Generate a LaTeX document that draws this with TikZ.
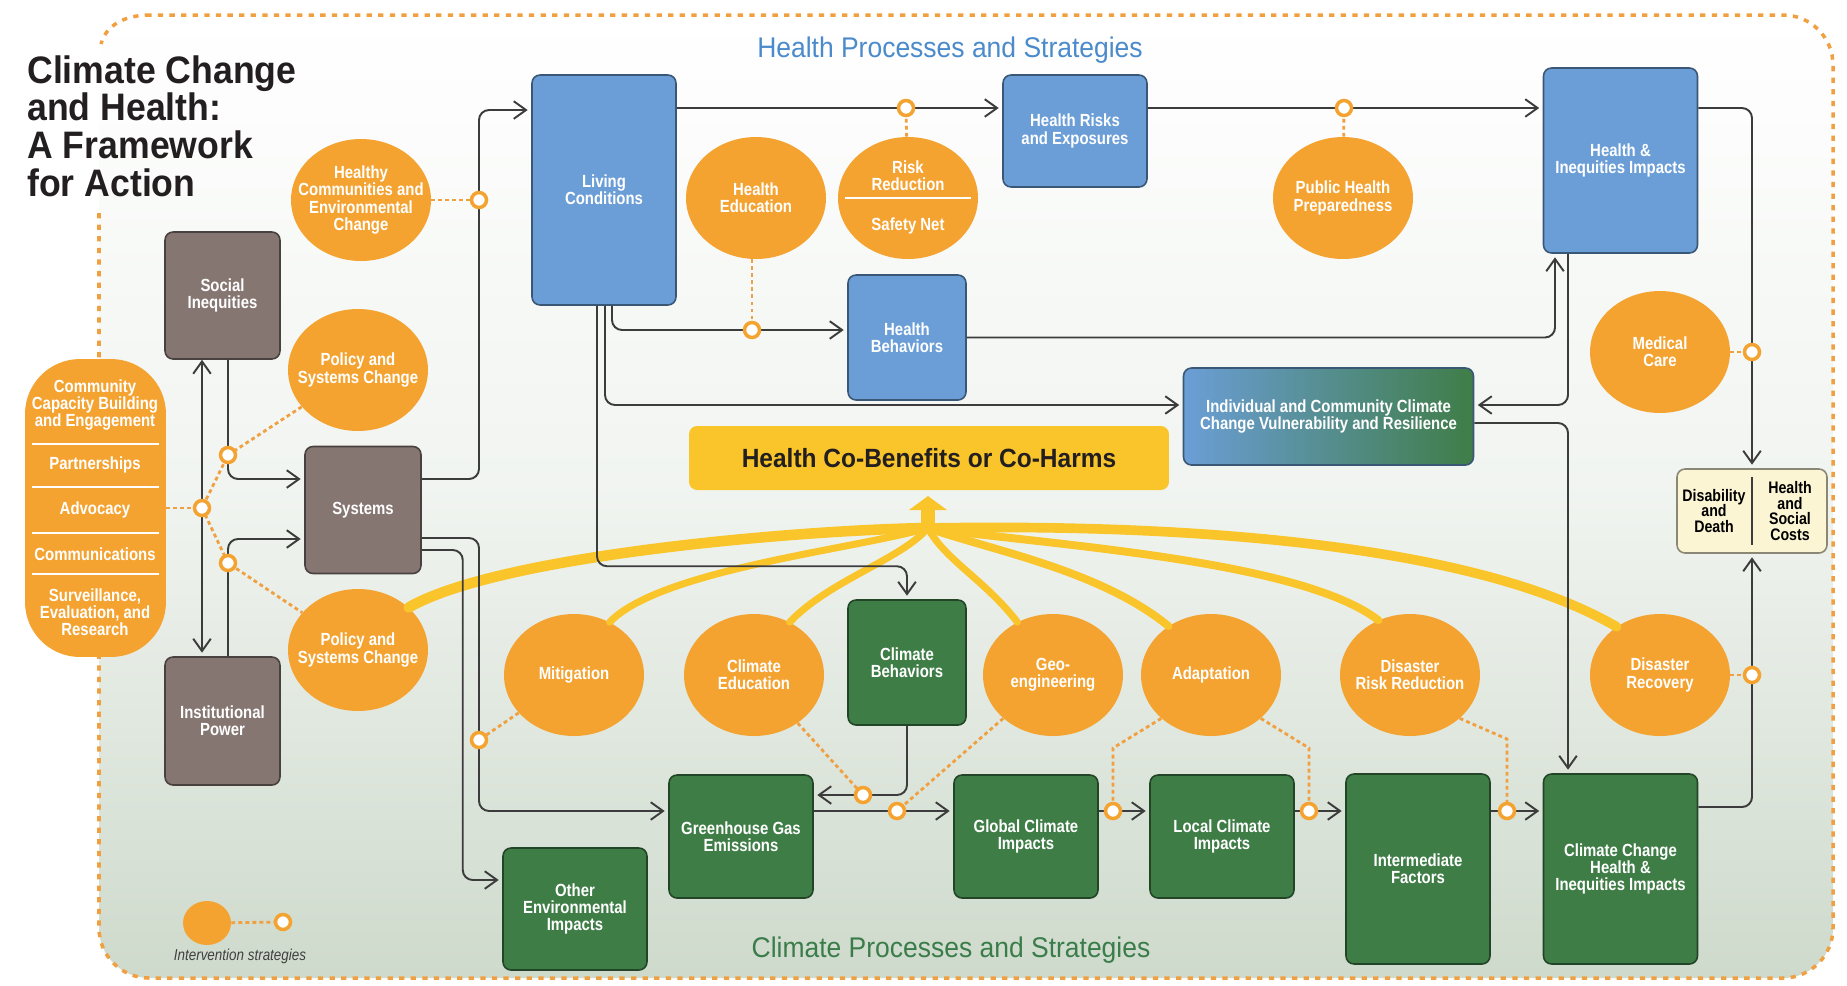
\documentclass[tikz,border=0pt]{standalone}
\usepackage{fontspec}
\setmainfont{Liberation Sans}[FakeStretch=0.85]
\newfontfamily\headingfont{Liberation Sans}[FakeStretch=0.93]
\usetikzlibrary{shapes.geometric,arrows.meta}

\definecolor{orng}{HTML}{F4A331}
\definecolor{dotorng}{HTML}{F0A040}
\definecolor{hblue}{HTML}{6B9ED6}
\definecolor{cgreen}{HTML}{3F7D47}
\definecolor{sgray}{HTML}{857672}
\definecolor{cbyellow}{HTML}{F9C52B}
\definecolor{cream}{HTML}{FBF5D3}
\definecolor{linegray}{HTML}{3C3C3C}
\definecolor{headblue}{HTML}{4B8BCB}
\definecolor{headgreen}{HTML}{3B7D4A}
\definecolor{bggreen}{HTML}{CEDACC}
\definecolor{titlecol}{HTML}{231F20}

\newcommand\boxfont{\bfseries\fontsize{10}{9.8}\selectfont}
\newcommand\costfont{\bfseries\fontsize{9.5}{9}\selectfont}

\begin{document}
\begin{tikzpicture}[x=0.02cm,y=-0.02cm,
	box/.style={rectangle,rounded corners=0.16cm,draw=#1!55!black,line width=0.9pt,fill=#1,
		text=white,align=center,inner sep=2pt,font=\boxfont},
	strat/.style={ellipse,fill=orng,minimum width=2.8cm,minimum height=2.44cm,inner sep=-1cm,
		text=white,align=center,font=\boxfont},
	lbl/.style={text=white,align=center,inner sep=0pt,font=\boxfont},
	ring/.style={circle,draw=orng,line width=2pt,fill=white,minimum size=0.3cm,inner sep=0pt},
	>={Straight Barb[length=7pt,width=10pt]},
	conn/.style={draw=linegray,line width=1.1pt,rounded corners=0.2cm,->,shorten >=2pt},
	link/.style={draw=dotorng,line width=1.6pt,dash pattern=on 2.2pt off 1.8pt},
	dotframe/.style={draw=dotorng,line width=2pt,dash pattern=on 3pt off 3.6pt},
	yband/.style={draw=cbyellow,line cap=round,line width=#1}]

	\useasboundingbox (0,0) rectangle (1847,985);
	\shade[top color=white,bottom color=bggreen,middle color=bggreen!30!white,rounded corners=1cm] (99,15) rectangle (1833,978);
	\draw[dotframe,rounded corners=1cm] (99,213) -- (99,978) -- (1833,978) -- (1833,15) -- (150,15);
	\draw[dotframe] (150,15) .. controls (125,15) and (106,25) .. (101,44);

	\node[anchor=north west,inner sep=0pt,align=left,text=titlecol,
		font=\headingfont\bfseries\fontsize{21.8}{21.5}\selectfont] (title) at (27,55)
		{Climate Change\\and Health:\\A Framework\\for Action};
	\node[anchor=base,text=headblue,font=\headingfont\fontsize{16.2}{16}\selectfont] (hhead) at (950,57) {Health Processes and Strategies};
	\node[anchor=base,text=headgreen,font=\headingfont\fontsize{16.2}{16}\selectfont] (chead) at (951,957) {Climate Processes and Strategies};

	\coordinate (rhealthy) at (479,200);
	\coordinate (rpolA) at (228,455);
	\coordinate (radv) at (202,508);
	\coordinate (rpolB) at (228,563);
	\coordinate (rrisk) at (906,108);
	\coordinate (rpub) at (1344,108);
	\coordinate (rhedu) at (752,330);
	\coordinate (rmed) at (1752,352);
	\coordinate (rmitig) at (479,740);
	\coordinate (rclimedu) at (863,795);
	\coordinate (rgeo) at (897,811);
	\coordinate (radaptA) at (1113,811);
	\coordinate (radaptB) at (1309,811);
	\coordinate (rdrr) at (1507,811);
	\coordinate (rrec) at (1752,675);
	\coordinate (fanbase) at (928,528);
	\coordinate (fantip) at (928,496);

	\node[fill=orng,rounded corners=1.1cm,minimum width=2.82cm,minimum height=5.96cm,inner sep=0pt] (pill) at (95.5,508) {};
	\foreach \dy in {1.28,0.42,-0.5,-1.32}
		\draw[white,line width=0.8pt] ([xshift=0.14cm,yshift=\dy cm]pill.west) -- ([xshift=-0.14cm,yshift=\dy cm]pill.east);
	\node[lbl] (pillA) at (95,405) {Community\\Capacity Building\\and Engagement};
	\node[lbl] (pillB) at (95,465) {Partnerships};
	\node[lbl] (pillC) at (95,510) {Advocacy};
	\node[lbl] (pillD) at (95,554) {Communications};
	\node[lbl] (pillE) at (95,612) {Surveillance,\\Evaluation, and\\Research};

	\node[box=sgray,minimum width=2.3cm,minimum height=2.54cm] (social) at (222.5,295.5) {Social\\Inequities};
	\node[box=sgray,minimum width=2.32cm,minimum height=2.54cm] (systems) at (363,510) {Systems};
	\node[box=sgray,minimum width=2.3cm,minimum height=2.56cm] (inst) at (222.5,721) {Institutional\\Power};

	\node[box=hblue,minimum width=2.88cm,minimum height=4.6cm] (living) at (604,190) {Living\\Conditions};
	\node[box=hblue,minimum width=2.88cm,minimum height=2.24cm] (risks) at (1075,131) {Health Risks\\and Exposures};
	\node[box=hblue,minimum width=2.36cm,minimum height=2.5cm] (behav) at (907,337.5) {Health\\Behaviors};
	\node[box=hblue,minimum width=3.08cm,minimum height=3.7cm] (hii) at (1620.5,160.5) {Health \&\\Inequities Impacts};
	\node[box=hblue,left color=hblue,right color=cgreen,minimum width=5.8cm,minimum height=1.94cm] (indiv) at (1328.5,416.5)
		{Individual and Community Climate\\Change Vulnerability and Resilience};
	\node[box=cbyellow,draw=none,text=titlecol,minimum width=9.6cm,minimum height=1.28cm,
		font=\headingfont\bfseries\fontsize{15}{15}\selectfont] (cobenefit) at (929,458) {Health Co-Benefits or Co-Harms};
	\node[box=cream,minimum width=3cm,minimum height=1.68cm] (costs) at (1752,511) {};
	\node[lbl,text=black,font=\costfont] (disab) at (1714,511) {Disability\\and\\Death};
	\node[lbl,text=black,font=\costfont] (hscost) at (1790,511) {Health\\and\\Social\\Costs};
	\draw[linegray,line width=0.9pt] ([yshift=-0.18cm]costs.north) -- ([yshift=0.18cm]costs.south);

	\node[box=cgreen,minimum width=2.36cm,minimum height=2.5cm] (climbeh) at (907,662.5) {Climate\\Behaviors};
	\node[box=cgreen,minimum width=2.88cm,minimum height=2.46cm] (ghg) at (741,836.5) {Greenhouse Gas\\Emissions};
	\node[box=cgreen,minimum width=2.88cm,minimum height=2.44cm] (otherenv) at (575,909) {Other\\Environmental\\Impacts};
	\node[box=cgreen,minimum width=2.88cm,minimum height=2.46cm] (globimp) at (1026,836.5) {Global Climate\\Impacts};
	\node[box=cgreen,minimum width=2.88cm,minimum height=2.46cm] (locimp) at (1222,836.5) {Local Climate\\Impacts};
	\node[box=cgreen,minimum width=2.88cm,minimum height=3.8cm] (inter) at (1418,869) {Intermediate\\Factors};
	\node[box=cgreen,minimum width=3.08cm,minimum height=3.8cm] (cchii) at (1620.5,869) {Climate Change\\Health \&\\Inequities Impacts};

	\node[strat] (healthy) at (361,200) {Healthy\\Communities and\\Environmental\\Change};
	\node[strat] (policyA) at (358,370) {Policy and\\Systems Change};
	\node[strat] (policyB) at (358,650) {Policy and\\Systems Change};
	\node[strat] (healthedu) at (756,198) {Health\\Education};
	\node[strat] (riskred) at (908,198) {};
	\node[lbl] (riskA) at (908,176) {Risk\\Reduction};
	\node[lbl] (riskB) at (908,226) {Safety Net};
	\draw[white,line width=0.8pt] ([xshift=0.14cm]riskred.west) -- ([xshift=-0.14cm]riskred.east);
	\node[strat] (pubhealth) at (1343,198) {Public Health\\Preparedness};
	\node[strat] (medcare) at (1660,352) {Medical\\Care};
	\node[strat] (mitig) at (574,675) {Mitigation};
	\node[strat] (climedu) at (754,675) {Climate\\Education};
	\node[strat] (geoeng) at (1053,675) {Geo-\\engineering};
	\node[strat] (adapt) at (1211,675) {Adaptation};
	\node[strat] (drr) at (1410,675) {Disaster\\Risk Reduction};
	\node[strat] (recovery) at (1660,675) {Disaster\\Recovery};

	\draw[yband=6pt] (policyB.40) .. controls (500,555) and (800,530) .. (fanbase);
	\draw[yband=4pt] (mitig.56) .. controls (660,570) and (850,550) .. (fanbase);
	\draw[yband=4pt] (climedu.56) .. controls (830,580) and (900,560) .. (fanbase);
	\draw[yband=4pt] (geoeng.124) .. controls (985,580) and (945,560) .. (fanbase);
	\draw[yband=4.5pt] (adapt.131) .. controls (1100,570) and (990,550) .. (fanbase);
	\draw[yband=4.5pt] (drr.120) .. controls (1300,560) and (1050,545) .. (fanbase);
	\draw[yband=5.5pt] (recovery.132) .. controls (1450,530) and (1100,525) .. (fanbase);
	\draw[yband=8pt,line cap=butt] (fanbase) -- ([yshift=-0.26cm]fantip);
	\fill[cbyellow] (fantip) -- ++(19,14) -- ++(-38,0) -- cycle;

	\draw[conn,<->] (social.south -| radv) -- (inst.north -| radv);
	\draw[conn] (social.south -| rpolA) |- ([yshift=0.62cm]systems.west);
	\draw[conn] (inst.north -| rpolB) |- ([yshift=-0.58cm]systems.west);
	\draw[conn] ([yshift=0.62cm]systems.east) -| (rhealthy) |- ([yshift=1.6cm]living.west);
	\draw[conn] ([yshift=-0.56cm]systems.east) -| (rmitig) |- (ghg.west |- rgeo);
	\draw[conn] ([yshift=-0.8cm]systems.east) -- ++(41,0) |- ([yshift=0.58cm]otherenv.west);
	\draw[conn] (living.east |- rrisk) -- (risks.west |- rrisk);
	\draw[conn] (risks.east |- rpub) -- (hii.west |- rpub);
	\draw[conn] ([xshift=0.16cm]living.south) |- (behav.west |- rhedu);
	\draw[conn] ([xshift=0.02cm]living.south) |- ([yshift=0.23cm]indiv.west);
	\draw[conn] ([xshift=-0.14cm]living.south) |- ([yshift=0.66cm]climbeh.north) -- (climbeh.north);
	\draw[conn] (behav.east) -| ([xshift=-1.31cm]hii.south);
	\draw[conn] ([xshift=-1.05cm]hii.south) |- ([yshift=0.23cm]indiv.east);
	\draw[conn] ([yshift=1.05cm]hii.east) -| (costs.north);
	\draw[conn] ([yshift=-0.13cm]indiv.east) -| ([xshift=-1.05cm]cchii.north);
	\draw[conn] ([yshift=1.24cm]cchii.east) -| (costs.south);
	\draw[conn] (climbeh.south) |- (ghg.east |- rclimedu);
	\draw[conn] (ghg.east |- rgeo) -- (globimp.west |- rgeo);
	\draw[conn] (globimp.east |- radaptA) -- (locimp.west |- radaptA);
	\draw[conn] (locimp.east |- radaptB) -- (inter.west |- radaptB);
	\draw[conn] (inter.east |- rdrr) -- (cchii.west |- rdrr);

	\draw[link] (healthy) -- (rhealthy);
	\draw[link] (pill.east |- radv) -- (radv);
	\draw[link] (policyA) -- (rpolA) -- (radv) -- (rpolB) -- (policyB);
	\draw[link] (riskred) -- (rrisk);
	\draw[link] (pubhealth) -- (rpub);
	\draw[link] (healthedu.south -| rhedu) -- (rhedu);
	\draw[link] (medcare) -- (rmed);
	\draw[link] (mitig) -- (rmitig);
	\draw[link] (climedu) -- (rclimedu);
	\draw[link] (geoeng) -- (rgeo);
	\draw[link] (adapt.south west) -- ([yshift=1.26cm]radaptA) -- (radaptA);
	\draw[link] (adapt.south east) -- ([yshift=1.26cm]radaptB) -- (radaptB);
	\draw[link] (drr.south east) -- ([yshift=1.44cm]rdrr) -- (rdrr);
	\draw[link] (recovery) -- (rrec);

	\foreach \r in {rhealthy,rpolA,radv,rpolB,rrisk,rpub,rhedu,rmed,rmitig,rclimedu,rgeo,radaptA,radaptB,rdrr,rrec}
		\node[ring] (\r-o) at (\r) {};

	\node[strat,minimum width=0.96cm,minimum height=0.88cm] (legcirc) at (207,923) {};
	\coordinate (legpt) at (283,922);
	\draw[link] (legcirc) -- (legpt);
	\node[ring] (legring) at (legpt) {};
	\node[anchor=base,text=black!75,font=\itshape\fontsize{9}{9}\selectfont] (legtext) at (240,960) {Intervention strategies};
\end{tikzpicture}
\end{document}
